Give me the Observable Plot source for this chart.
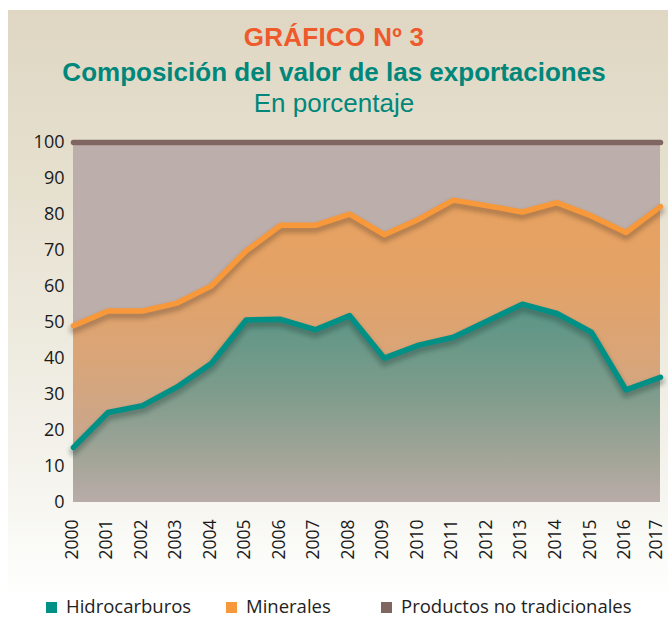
<!DOCTYPE html>
<html>
<head>
<meta charset="utf-8">
<script src="https://cdn.jsdelivr.net/npm/d3@7"></script>
<script src="https://cdn.jsdelivr.net/npm/@observablehq/plot@0.6"></script>
<style>
  html, body { margin: 0; padding: 0; background: #fff; }
  #page { position: relative; width: 668px; height: 617px; overflow: hidden; background: #fff; }
  #panel { position: absolute; left: 8px; top: 10px; width: 660px; height: 590px;
    background: linear-gradient(to bottom, #dfd7c3 0%, #e6e0cf 30%, #eeebe0 58%, #f5f4ee 80%, #fbfbf8 92%, #ffffff 100%); }
  .t { position: absolute; left: 0; width: 668px; text-align: center; font-family: "Liberation Sans", Arial, sans-serif; white-space: nowrap; }
  #t1 { top: 22px; font-size: 26px; font-weight: bold; color: #ee5a2c; letter-spacing: 0.3px; }
  #t2 { top: 57px; font-size: 26px; font-weight: bold; color: #00877b; }
  #t3 { top: 88px; font-size: 26px; color: #00877b; }
  #chart { position: absolute; left: 0; top: 120px; }
  #legend { position: absolute; top: 593px; left: 0; width: 668px; font-family: "Open Sans", sans-serif; font-size: 18.5px; color: #222; }
  #legend span.item { position: absolute; top: 0; white-space: nowrap; }
  #legend span.sw { display: inline-block; width: 11px; height: 11px; margin-right: 9px; vertical-align: 0px; }
</style>
</head>
<body>
<div id="page">
  <div id="panel"></div>
  <div class="t" id="t1">GRÁFICO Nº 3</div>
  <div class="t" id="t2">Composición del valor de las exportaciones</div>
  <div class="t" id="t3">En porcentaje</div>
  <div id="chart"></div>
  <div id="legend"></div>
</div>
<script>
// Data (percent shares of export value)
const years = [2000, 2001, 2002, 2003, 2004, 2005, 2006, 2007, 2008, 2009, 2010, 2011, 2012, 2013, 2014, 2015, 2016, 2017];
const hidrocarburos = [15.3, 25.0, 26.9, 32.1, 38.7, 50.7, 50.9, 48.0, 51.9, 40.1, 43.7, 45.9, 50.5, 55.1, 52.5, 47.3, 31.3, 34.8];
const minerales = [33.8, 28.2, 26.3, 23.3, 21.5, 19.2, 26.1, 29.0, 28.2, 34.3, 35.0, 38.1, 31.9, 25.6, 30.8, 32.3, 43.7, 47.4];
const productosNoTradicionales = years.map((y, i) => 100 - hidrocarburos[i] - minerales[i]);
const seriesNames = ["Hidrocarburos", "Minerales", "Productos no tradicionales"];
const seriesColors = ["#009086", "#f7993a", "#7f6661"];
const yTicks = [0, 10, 20, 30, 40, 50, 60, 70, 80, 90, 100];

const rows = years.map((year, i) => ({
  year,
  h: hidrocarburos[i],
  m: hidrocarburos[i] + minerales[i],
  p: hidrocarburos[i] + minerales[i] + productosNoTradicionales[i]
}));

const firstYears = years.slice(0, -1);
const lastYear = years.slice(-1);

const chart = Plot.plot({
  width: 668,
  height: 460,
  marginLeft: 73,
  marginRight: 8,
  marginTop: 22,
  marginBottom: 78,
  style: { background: "transparent", fontFamily: "Open Sans, sans-serif", fontSize: "18px", color: "#1a1a1a", overflow: "visible" },
  x: { domain: [2000, 2017], label: null },
  y: { domain: [0, 100], label: null },
  marks: [
    Plot.areaY(rows, { x: "year", y1: "m", y2: "p", fill: "url(#gProd)" }),
    Plot.areaY(rows, { x: "year", y1: "h", y2: "m", fill: "url(#gMin)" }),
    Plot.areaY(rows, { x: "year", y1: 0, y2: "h", fill: "url(#gHid)" }),
    // soft shadows under lines
    Plot.lineY(rows, { x: "year", y: "m", stroke: "#5b3f2a", strokeOpacity: 0.35, strokeWidth: 8, dy: 4 }),
    Plot.lineY(rows, { x: "year", y: "h", stroke: "#1f3a33", strokeOpacity: 0.35, strokeWidth: 8, dy: 4 }),
    Plot.lineY(rows, { x: "year", y: "p", stroke: seriesColors[2], strokeWidth: 5.5 }),
    Plot.lineY(rows, { x: "year", y: "m", stroke: seriesColors[1], strokeWidth: 5.5 }),
    Plot.lineY(rows, { x: "year", y: "h", stroke: seriesColors[0], strokeWidth: 5.5 }),
    Plot.axisY(yTicks, { tickSize: 0, tickPadding: 9, fontSize: 18 }),
    Plot.axisX(firstYears, { tickSize: 0, tickRotate: -90, tickPadding: 17, tickFormat: d => String(d), fontSize: 17.5, dx: -1.5 }),
    Plot.axisX(lastYear, { tickSize: 0, tickRotate: -90, tickPadding: 17, tickFormat: d => String(d), fontSize: 17.5, dx: -4 })
  ]
});

// gradient and blur definitions
const svg = d3.select(chart);
const defs = svg.insert("defs", ":first-child");
function grad(id, stops) {
  const g = defs.append("linearGradient").attr("id", id)
    .attr("gradientUnits", "userSpaceOnUse")
    .attr("x1", 0).attr("x2", 0).attr("y1", 22).attr("y2", 382);
  stops.forEach(([o, c]) => g.append("stop").attr("offset", o).attr("stop-color", c));
}
grad("gProd", [[0, "#bcaeab"], [1, "#bcaeab"]]);
grad("gMin", [[0, "#e9a25e"], [0.35, "#e4a265"], [0.6, "#d9a578"], [0.85, "#c8a78f"], [1, "#bdaaa0"]]);
grad("gHid", [[0, "#4f9586"], [0.45, "#589585"], [0.7, "#7f9c8c"], [0.88, "#a3a598"], [1, "#b9aca8"]]);
defs.append("filter").attr("id", "soft").attr("x", "-5%").attr("y", "-20%").attr("width", "110%").attr("height", "140%")
  .append("feGaussianBlur").attr("stdDeviation", 2.2);
svg.selectAll("g[stroke-opacity='0.35']").attr("filter", "url(#soft)");

document.getElementById("chart").appendChild(chart);

// legend
const legend = document.getElementById("legend");
const legendX = [46, 226, 381];
seriesNames.forEach((name, i) => {
  const item = document.createElement("span");
  item.className = "item";
  item.style.left = legendX[i] + "px";
  const sw = document.createElement("span");
  sw.className = "sw";
  sw.style.background = seriesColors[i];
  item.appendChild(sw);
  item.appendChild(document.createTextNode(name));
  legend.appendChild(item);
});
</script>
</body>
</html>
